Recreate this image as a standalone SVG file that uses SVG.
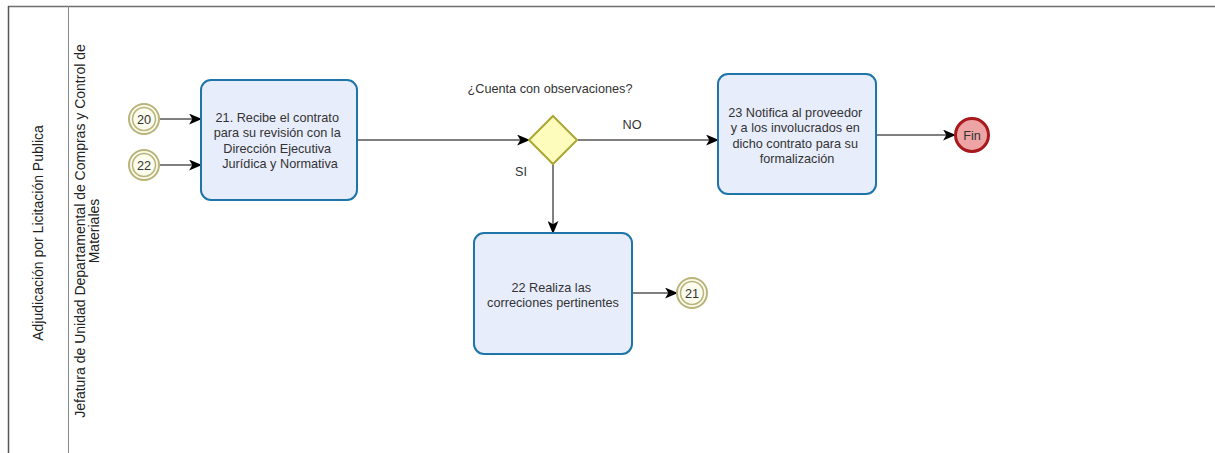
<svg xmlns="http://www.w3.org/2000/svg" width="1215" height="453" viewBox="0 0 1215 453">
  <style>
    text { font-family: "Liberation Sans", Arial, sans-serif; font-size: 12.7px; fill: #333333; }
    .lane { fill: #222222; font-size: 14px; }
    .task { fill: #e8edfc; stroke: #1f75a8; stroke-width: 2; }
    .link { fill: none; stroke: #000000; stroke-width: 1; marker-end: url(#arrow); }
    .ref-outer { fill: #fbfbee; stroke: #b8b47a; stroke-width: 2; }
    .ref-inner { fill: none; stroke: #b8b47a; stroke-width: 1.5; }
  </style>
  <defs>
    <marker id="arrow" viewBox="0 0 12 10" refX="11" refY="5" markerWidth="13" markerHeight="11" markerUnits="userSpaceOnUse" orient="auto">
      <path d="M0,0 L12,5 L0,10 L3,5 Z" fill="#000000"/>
    </marker>
  </defs>
  <rect width="1215" height="453" fill="#ffffff"/>

  <!-- pool and lane frame -->
  <g id="pool">
    <line x1="8" y1="6.5" x2="1215" y2="6.5" stroke="#6f6f6f" stroke-width="1.5"/>
    <line x1="8.5" y1="6" x2="8.5" y2="453" stroke="#555555" stroke-width="1.5"/>
    <line x1="68.5" y1="6" x2="68.5" y2="453" stroke="#888888" stroke-width="1"/>
    <text class="lane" transform="translate(43,233) rotate(-90)" text-anchor="middle">Adjudicación por Licitación Publica</text>
    <text class="lane" transform="translate(85,231) rotate(-90)" text-anchor="middle">Jefatura de Unidad Departamental de Compras y Control de</text>
    <text class="lane" transform="translate(99,231) rotate(-90)" text-anchor="middle">Materiales</text>
  </g>

  <!-- connectors -->
  <g id="connectors">
    <line class="link" x1="160" y1="119" x2="201" y2="119"/>
    <line class="link" x1="160" y1="165" x2="201" y2="165"/>
    <line class="link" x1="357" y1="140" x2="529" y2="140"/>
    <line class="link" x1="578" y1="140" x2="718" y2="140"/>
    <line class="link" x1="553" y1="164" x2="553" y2="233"/>
    <line class="link" x1="876" y1="135" x2="955" y2="135"/>
    <line class="link" x1="632" y1="293" x2="677" y2="293"/>
    <text x="632" y="128.5" text-anchor="middle">NO</text>
    <text x="521" y="175.5" text-anchor="middle">SI</text>
  </g>

  <g id="ref-20">
    <circle class="ref-outer" cx="144" cy="119" r="15"/>
    <circle class="ref-inner" cx="144" cy="119" r="11.5"/>
    <text x="144" y="123.5" text-anchor="middle">20</text>
  </g>
  <g id="ref-22">
    <circle class="ref-outer" cx="144" cy="165" r="15"/>
    <circle class="ref-inner" cx="144" cy="165" r="11.5"/>
    <text x="144" y="169.5" text-anchor="middle">22</text>
  </g>

  <g id="task-21">
    <rect class="task" x="201" y="80" width="156" height="120" rx="10"/>
    <text text-anchor="middle">
      <tspan x="279" y="121.5">21. Recibe el contrato</tspan>
      <tspan x="279" y="137">para su revisión con la</tspan>
      <tspan x="279" y="152.5">Dirección Ejecutiva</tspan>
      <tspan x="280" y="168">Jurídica y Normativa</tspan>
    </text>
  </g>

  <g id="gateway">
    <path d="M553,116 L577,140 L553,164 L529,140 Z" fill="#fdfcbc" stroke="#aaa634" stroke-width="2"/>
    <text x="550" y="92.5" text-anchor="middle">¿Cuenta con observaciones?</text>
  </g>

  <g id="task-23">
    <rect class="task" x="718" y="74" width="158" height="120" rx="10"/>
    <text text-anchor="middle">
      <tspan x="797" y="116.5">23 Notifica al proveedor</tspan>
      <tspan x="797" y="132">y a los involucrados en</tspan>
      <tspan x="797" y="147.5">dicho contrato para su</tspan>
      <tspan x="797" y="163">formalización</tspan>
    </text>
  </g>

  <g id="end-fin">
    <circle cx="972" cy="135" r="16.5" fill="#eea4a4" stroke="#a8181c" stroke-width="3"/>
    <text x="972" y="139.5" text-anchor="middle">Fin</text>
  </g>

  <g id="task-22">
    <rect class="task" x="474" y="233" width="158" height="121" rx="10"/>
    <text text-anchor="middle">
      <tspan x="553" y="291.5">22 Realiza las</tspan>
      <tspan x="553" y="307">correciones pertinentes</tspan>
    </text>
  </g>

  <g id="ref-21">
    <circle class="ref-outer" cx="692" cy="293" r="15"/>
    <circle class="ref-inner" cx="692" cy="293" r="11.5"/>
    <text x="692" y="297.5" text-anchor="middle">21</text>
  </g>
</svg>
